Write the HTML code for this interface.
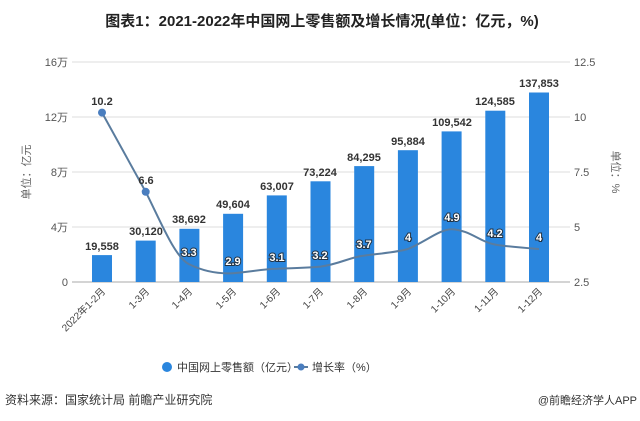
<!DOCTYPE html>
<html><head><meta charset="utf-8"><style>
html,body{margin:0;padding:0;background:#fff;width:640px;height:421px;overflow:hidden;}
svg{display:block;font-family:"Liberation Sans","Noto Sans CJK SC",sans-serif;}
</style></head><body>
<svg width="640" height="421" viewBox="0 0 640 421">
<text x="322" y="26" text-anchor="middle" font-size="15" font-weight="bold" fill="#222">图表1：2021-2022年中国网上零售额及增长情况(单位：亿元，%)</text>
<g stroke="#ddd" stroke-width="1">
<line x1="72" y1="62" x2="570" y2="62"/><line x1="72" y1="117" x2="570" y2="117"/>
<line x1="72" y1="172" x2="570" y2="172"/><line x1="72" y1="227" x2="570" y2="227"/>
</g>
<line x1="72" y1="282" x2="570" y2="282" stroke="#aaa"/>
<g font-size="11" fill="#555" text-anchor="end">
<text x="68" y="66">16万</text><text x="68" y="121">12万</text><text x="68" y="176">8万</text><text x="68" y="231">4万</text><text x="68" y="286">0</text>
</g>
<g font-size="11" fill="#555">
<text x="574" y="66">12.5</text><text x="574" y="121">10</text><text x="574" y="176">7.5</text><text x="574" y="231">5</text><text x="574" y="286">2.5</text>
</g>
<text transform="translate(30,172) rotate(-90)" font-size="11" fill="#666" text-anchor="middle">单位：亿元</text>
<text transform="translate(612,172) rotate(90)" font-size="11" fill="#666" text-anchor="middle">单位：%</text>
<g fill="#2a86de">
<rect x="92" y="255.1" width="20" height="26.9"/>
<rect x="135.7" y="240.6" width="20" height="41.4"/>
<rect x="179.4" y="228.8" width="20" height="53.2"/>
<rect x="223.1" y="213.8" width="20" height="68.2"/>
<rect x="266.8" y="195.4" width="20" height="86.6"/>
<rect x="310.5" y="181.3" width="20" height="100.7"/>
<rect x="354.2" y="166.1" width="20" height="115.9"/>
<rect x="397.9" y="150.2" width="20" height="131.8"/>
<rect x="441.6" y="131.4" width="20" height="150.6"/>
<rect x="485.3" y="110.7" width="20" height="171.3"/>
<rect x="529" y="92.5" width="20" height="189.5"/>
</g>
<g font-size="11" font-weight="bold" fill="#333" text-anchor="middle">
<text x="102" y="250">19,558</text><text x="146" y="235">30,120</text><text x="189" y="223">38,692</text>
<text x="233" y="208">49,604</text><text x="277" y="190">63,007</text><text x="320" y="176">73,224</text>
<text x="364" y="161">84,295</text><text x="408" y="145">95,884</text><text x="452" y="126">109,542</text>
<text x="495" y="105">124,585</text><text x="539" y="87">137,853</text>
</g>
<path d="M102,112.6 L145.7,191.8 C160,220 175,258 189.4,264.4 C205,272 220,274 233.1,273.2 C250,272 262,269 276.8,268.8 C295,268 305,268 320.5,266.6 C340,264 350,257 364.2,255.6 C385,253 398,252 407.9,249 C425,242 440,229 451.6,229.2 C470,230 480,242 495.3,244.6 C510,247 525,248 539,249" fill="none" stroke="#5a7c9e" stroke-width="2"/>
<circle cx="102" cy="112.6" r="4" fill="#4a7ebf"/><circle cx="145.7" cy="191.8" r="4" fill="#4a7ebf"/>
<g font-size="11" font-weight="bold" fill="#333" text-anchor="middle">
<text x="102" y="105">10.2</text><text x="146" y="184">6.6</text>
</g>
<g font-size="11" font-weight="bold" fill="#fff" stroke="#234" stroke-width="2" paint-order="stroke" text-anchor="middle">
<text x="189" y="256">3.3</text><text x="233" y="265">2.9</text><text x="277" y="261">3.1</text>
<text x="320" y="259">3.2</text><text x="364" y="248">3.7</text><text x="408" y="241">4</text>
<text x="452" y="221">4.9</text><text x="495" y="237">4.2</text><text x="539" y="241">4</text>
</g>
<g font-size="10" fill="#444" text-anchor="end">
<text transform="translate(106,292) rotate(-45)">2022年1-2月</text>
<text transform="translate(150,292) rotate(-45)">1-3月</text>
<text transform="translate(193,292) rotate(-45)">1-4月</text>
<text transform="translate(237,292) rotate(-45)">1-5月</text>
<text transform="translate(281,292) rotate(-45)">1-6月</text>
<text transform="translate(324,292) rotate(-45)">1-7月</text>
<text transform="translate(368,292) rotate(-45)">1-8月</text>
<text transform="translate(412,292) rotate(-45)">1-9月</text>
<text transform="translate(456,292) rotate(-45)">1-10月</text>
<text transform="translate(499,292) rotate(-45)">1-11月</text>
<text transform="translate(543,292) rotate(-45)">1-12月</text>
</g>
<circle cx="167" cy="367" r="5" fill="#2a86de"/>
<text x="177" y="371" font-size="11" fill="#333">中国网上零售额（亿元）</text>
<line x1="294" y1="367" x2="308" y2="367" stroke="#5a7c9e" stroke-width="2"/><circle cx="301" cy="367" r="3.5" fill="#4a7ebf"/>
<text x="312" y="371" font-size="11" fill="#333">增长率（%）</text>
<text x="5" y="404" font-size="12" fill="#333">资料来源：国家统计局 前瞻产业研究院</text>
<text x="637" y="404" font-size="11" fill="#333" text-anchor="end">@前瞻经济学人APP</text>
</svg>
</body></html>
